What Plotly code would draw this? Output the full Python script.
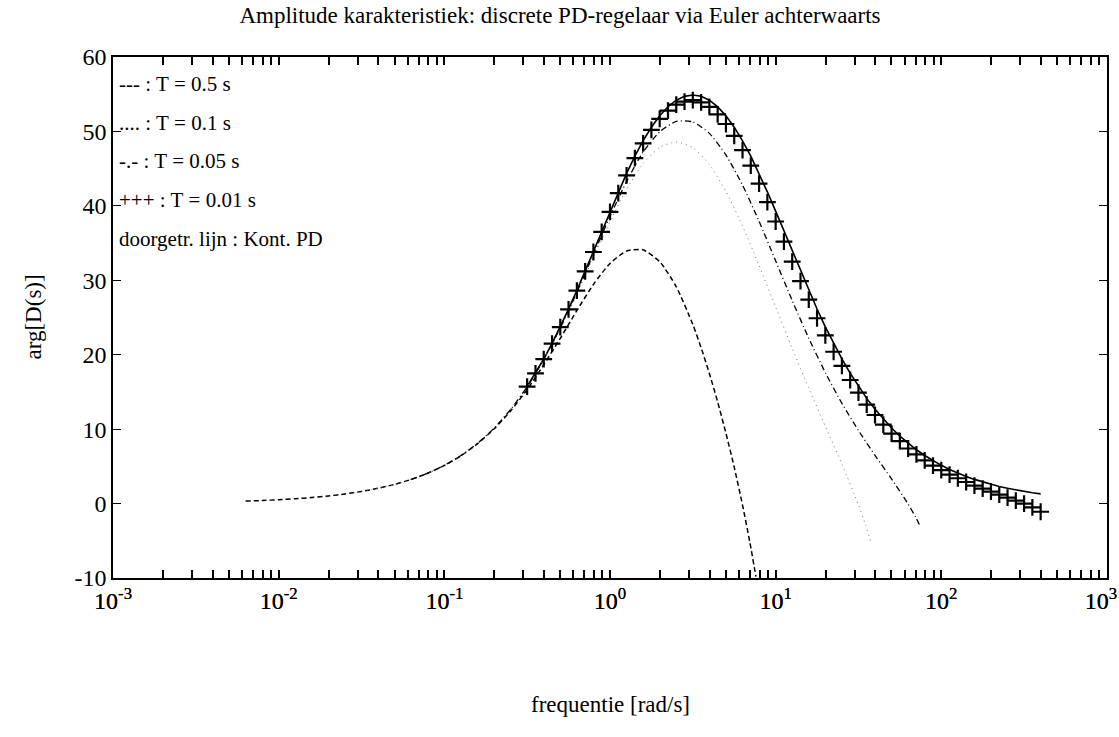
import plotly.graph_objects as go

# ---------------- data ----------------
# fine frequency grid used for the continuous PD line and the T = 0.01 s markers
freq_fine = [0.316, 0.355, 0.398, 0.447, 0.501, 0.562, 0.631, 0.708, 0.794, 0.891,
             1.0, 1.122, 1.259, 1.413, 1.585, 1.778, 1.995, 2.239, 2.512, 2.818,
             3.162, 3.548, 3.981, 4.467, 5.012, 5.623, 6.310, 7.079, 7.943, 8.913,
             10.0, 11.22, 12.59, 14.13, 15.85, 17.78, 19.95, 22.39, 25.12, 28.18,
             31.62, 35.48, 39.81, 44.67, 50.12, 56.23, 63.10, 70.79, 79.43, 89.13,
             100.0, 112.2, 125.9, 141.3, 158.5, 177.8, 199.5, 223.9, 251.2, 281.8,
             316.2, 354.8, 398.1]

phase_cont = [15.73, 17.52, 19.42, 21.52, 23.74, 26.12, 28.64, 31.25, 33.91, 36.61,
              39.29, 41.90, 44.36, 46.68, 48.76, 50.56, 52.10, 53.32, 54.19, 54.71,
              54.90, 54.73, 54.20, 53.31, 52.09, 50.57, 48.74, 46.67, 44.36, 41.89,
              39.29, 36.61, 33.92, 31.23, 28.64, 26.14, 23.75, 21.50, 19.43, 17.51,
              15.74, 14.13, 12.66, 11.34, 10.15, 9.06, 8.10, 7.23, 6.46, 5.76,
              5.14, 4.58, 4.08, 3.64, 3.25, 2.90, 2.58, 2.30, 2.05, 1.83,
              1.63, 1.45, 1.30]

phase_T001 = [15.7, 17.5, 19.4, 21.5, 23.7, 26.1, 28.6, 31.2, 33.8, 36.5,
              39.2, 41.7, 44.1, 46.4, 48.4, 50.2, 51.7, 52.8, 53.6, 54.0,
              54.2, 53.9, 53.3, 52.3, 51.0, 49.4, 47.5, 45.4, 43.0, 40.5,
              37.9, 35.2, 32.5, 29.9, 27.4, 24.9, 22.6, 20.4, 18.5, 16.6,
              14.9, 13.3, 11.9, 10.6, 9.4, 8.4, 7.4, 6.6, 5.8, 5.1,
              4.5, 3.9, 3.4, 2.9, 2.4, 2.0, 1.6, 1.2, 0.8, 0.4,
              0.0, -0.5, -1.1]

freq_T05 = [0.00631, 0.00794, 0.01, 0.0126, 0.0158, 0.02, 0.0251, 0.0316, 0.0398, 0.0501,
            0.0631, 0.0794, 0.1, 0.126, 0.158, 0.2, 0.251, 0.316, 0.398, 0.501,
            0.631, 0.794, 1.0, 1.26, 1.58, 2.0, 2.51, 3.16, 3.55, 3.98,
            4.47, 5.01, 5.62, 6.31, 7.0, 7.6]
phase_T05 = [0.33, 0.41, 0.52, 0.65, 0.81, 1.03, 1.29, 1.63, 2.05, 2.58,
             3.25, 4.08, 5.12, 6.43, 8.02, 10.05, 12.44, 15.32, 18.65, 22.20,
             25.94, 29.44, 32.26, 33.94, 34.10, 32.48, 29.15, 24.08, 20.94, 17.48,
             13.62, 9.47, 4.91, -0.20, -5.29, -9.8]

freq_T01 = [0.0316, 0.0501, 0.0794, 0.126, 0.2, 0.316, 0.501, 0.794, 1.0, 1.26,
            1.58, 2.0, 2.51, 3.16, 3.98, 5.01, 6.31, 7.94, 10.0, 12.6,
            15.8, 20.0, 25.1, 31.6, 35.0, 37.5]
phase_T01 = [1.63, 2.58, 4.09, 6.45, 10.14, 15.65, 23.46, 33.04, 37.89, 42.24,
             45.61, 47.86, 48.59, 47.82, 45.54, 41.95, 37.30, 32.0, 26.41, 20.84,
             15.58, 10.34, 5.33, -0.15, -2.96, -5.12]

freq_T005 = [0.0631, 0.0794, 0.1, 0.126, 0.158, 0.2, 0.251, 0.316, 0.398, 0.501,
             0.631, 0.794, 1.0, 1.26, 1.58, 2.0, 2.51, 3.16, 3.98, 5.01,
             6.31, 7.94, 10.0, 12.6, 15.8, 20.0, 25.1, 31.6, 39.8, 50.1,
             63.1, 70.0, 75.0]
phase_T005 = [3.25, 4.09, 5.14, 6.46, 8.06, 10.15, 12.63, 15.69, 19.34, 23.60,
              28.39, 33.48, 38.59, 43.28, 47.2, 49.97, 51.35, 51.28, 49.74, 46.84,
              42.79, 37.93, 32.61, 27.27, 22.28, 17.55, 13.48, 9.83, 6.48, 3.31,
              -0.07, -1.82, -3.15]

x_tick_vals = [0.001, 0.01, 0.1, 1, 10, 100, 1000]
x_tick_text = ["10<sup>-3</sup>", "10<sup>-2</sup>", "10<sup>-1</sup>", "10<sup>0</sup>",
               "10<sup>1</sup>", "10<sup>2</sup>", "10<sup>3</sup>\u00a0\u00a0"]
x_minor_mult = [2, 3, 4, 5, 6, 7, 8, 9]
y_tick_vals = [-10, 0, 10, 20, 30, 40, 50, 60]
y_tick_text = ["-10", "0", "10", "20", "30", "40", "50", "60"]

NB = "\u00a0"
legend_lines = ["---" + NB + ": T" + NB + "=" + NB + "0.5 s",
                "...." + NB + ": T" + NB + "=" + NB + "0.1 s",
                "-.-" + NB + ": T" + NB + "=" + NB + "0.05 s",
                "+++" + NB + ": T" + NB + "=" + NB + "0.01 s",
                "doorgetr. lijn : Kont. PD"]

title_text = "Amplitude karakteristiek: discrete PD-regelaar via Euler achterwaarts"
x_title = "frequentie [rad/s]"
y_title = "arg[D(s)]"

# ---------------- figure ----------------
FONT = "Liberation Serif, Times New Roman, serif"

fig = go.Figure()

fig.add_trace(go.Scatter(x=freq_fine, y=phase_cont, mode="lines",
                         line=dict(color="black", width=1.6), showlegend=False))
fig.add_trace(go.Scatter(x=freq_T05, y=phase_T05, mode="lines",
                         line=dict(color="black", width=1.5, dash="5px,3px", shape="spline", smoothing=0.6),
                         showlegend=False))
fig.add_trace(go.Scatter(x=freq_T01, y=phase_T01, mode="lines",
                         line=dict(color="#777777", width=1, dash="1px,4px", shape="spline", smoothing=0.6),
                         showlegend=False))
fig.add_trace(go.Scatter(x=freq_T005, y=phase_T005, mode="lines",
                         line=dict(color="black", width=1.3, dash="6px,3px,1px,3px", shape="spline", smoothing=0.6),
                         showlegend=False))
fig.add_trace(go.Scatter(x=freq_fine, y=phase_T001, mode="markers",
                         marker=dict(symbol="cross-thin", size=12, color="black",
                                     line=dict(width=2.2, color="black")),
                         showlegend=False))

# decade ticks carry the labels; unlabeled ticks for the 2..9 subdivisions,
# plus an unlabeled tick right at each decade so that every decade gets a tick mark
minor_vals = [k * 10.0 ** e for e in range(-3, 3) for k in x_minor_mult]
decade_marks = [v * 1.0002 for v in x_tick_vals[:-1]] + [x_tick_vals[-1] * 0.9998]
all_x_ticks = x_tick_vals + decade_marks + minor_vals
all_x_text = x_tick_text + [""] * (len(decade_marks) + len(minor_vals))

fig.update_layout(
    xaxis=dict(type="log", range=[-3.0005, 3.0005], automargin=False,
               tickmode="array", tickvals=all_x_ticks, ticktext=all_x_text,
               ticks="inside", ticklen=8, tickwidth=1.6, tickcolor="black",
               showline=True, linecolor="black", linewidth=1.6, mirror="allticks",
               showgrid=False, zeroline=False, ticklabeloverflow="allow",
               layer="above traces",
               tickfont=dict(family=FONT, size=24, color="black")),
    yaxis=dict(range=[-10, 60], automargin=False,
               tickmode="array", tickvals=y_tick_vals, ticktext=y_tick_text,
               ticks="inside", ticklen=8, tickwidth=1.4, tickcolor="black",
               showline=True, linecolor="black", linewidth=1.6, mirror="allticks",
               showgrid=False, zeroline=False,
               tickfont=dict(family=FONT, size=24, color="black")),
)

annotations = []
legend_y_px = [84, 123, 161, 200, 239]
plot_top, plot_bottom = 57, 578
plot_h = plot_bottom - plot_top
for txt, ypx in zip(legend_lines, legend_y_px):
    annotations.append(dict(text=txt, xref="paper", yref="paper",
                            x=0.004, y=(plot_bottom - ypx) / plot_h,
                            xanchor="left", yanchor="middle", showarrow=False,
                            font=dict(family=FONT, size=21, color="black")))
annotations.append(dict(text=x_title, xref="paper", yref="paper", x=0.5,
                        y=(plot_bottom - 705) / plot_h, xanchor="center", yanchor="middle",
                        showarrow=False, font=dict(family=FONT, size=23, color="black")))
annotations.append(dict(text=y_title, xref="paper", yref="paper", x=(33 - 113) / 994,
                        y=0.5, xanchor="center", yanchor="middle", textangle=-90,
                        showarrow=False, font=dict(family=FONT, size=23, color="black")))

fig.update_layout(
    width=1119, height=737,
    margin=dict(l=113, r=12, t=57, b=159),
    paper_bgcolor="white", plot_bgcolor="white",
    title=dict(text=title_text, x=560 / 1119, xanchor="center",
               y=1 - 15 / 737, yanchor="middle", yref="container",
               font=dict(family=FONT, size=23, color="black")),
    annotations=annotations,
    showlegend=False,
)

fig.write_html("out.html")
